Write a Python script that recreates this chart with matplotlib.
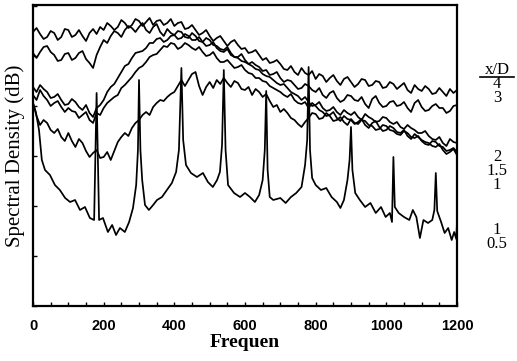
import numpy as np
import matplotlib
matplotlib.use("Agg")
import matplotlib.pyplot as plt
from matplotlib.lines import Line2D
from matplotlib.ticker import MultipleLocator

# frequency grid (Hz) used for the broadband curves
freq = np.arange(0, 1201, 10)

# spectral levels (dB, arbitrary origin), one row = 100 Hz
lvl_4 = [54.8, 55.6, 54.4, 53.4, 53.8, 55.0, 54.6, 53.2, 53.8, 55.4,
         55.2, 53.8, 54.2, 55.2, 54.0, 53.0, 54.6, 55.4, 54.4, 55.8,
         55.2, 56.6, 56.0, 55.2, 55.8, 57.2, 56.6, 55.6, 56.2, 57.4,
         57.0, 56.0, 56.8, 57.6, 56.2, 57.0, 57.2, 56.2, 56.6, 57.4,
         56.0, 56.6, 56.8, 55.4, 55.6, 56.2, 55.2, 54.2, 54.6, 55.2,
         54.0, 53.0, 53.6, 54.0, 53.0, 52.0, 52.8, 53.2, 52.2, 51.4,
         51.6, 50.6, 50.8, 51.2, 50.2, 49.2, 49.6, 48.6, 48.8, 49.2,
         48.4, 47.4, 47.2, 48.0, 46.8, 46.2, 47.6, 46.6, 46.2, 47.0,
         45.4, 46.4, 46.0, 44.8, 45.6, 46.2, 45.0, 44.2, 45.4, 45.8,
         44.8, 43.8, 44.4, 45.4, 45.2, 44.0, 44.2, 45.0, 44.8, 43.6,
         43.8, 44.8, 44.4, 43.4, 44.0, 44.6, 43.2, 42.6, 44.2, 43.4,
         43.0, 44.0, 43.4, 42.4, 42.6, 43.6, 42.8, 42.0, 43.4, 42.6,
         43.2]
lvl_3 = [50.6, 49.6, 50.8, 51.8, 52.0, 50.8, 50.2, 49.0, 49.2, 50.4,
         50.6, 49.2, 49.6, 50.6, 51.0, 49.4, 48.6, 47.6, 50.2, 51.8,
         53.2, 52.6, 54.0, 55.0, 54.6, 53.8, 55.2, 56.0, 55.6, 54.8,
         55.8, 56.6, 55.2, 54.6, 55.8, 56.4, 54.8, 54.0, 55.4, 54.6,
         54.2, 55.0, 54.8, 53.8, 53.6, 54.6, 54.0, 53.0, 52.8, 53.6,
         53.2, 52.2, 52.0, 51.4, 51.2, 51.8, 50.6, 49.8, 49.8, 50.4,
         49.2, 48.4, 48.8, 48.2, 47.8, 47.0, 47.2, 46.2, 46.4, 46.8,
         45.6, 44.8, 45.2, 45.0, 44.2, 43.4, 43.6, 44.4, 44.0, 43.2,
         42.8, 43.6, 42.2, 41.6, 42.6, 43.0, 41.6, 40.8, 41.2, 42.2,
         42.0, 41.2, 41.0, 41.8, 40.4, 39.6, 41.4, 42.0, 40.6, 39.8,
         40.0, 40.8, 41.0, 40.0, 40.2, 40.8, 39.6, 38.8, 40.6, 41.2,
         39.8, 39.0, 39.2, 40.0, 40.4, 39.6, 39.6, 38.6, 39.0, 40.0,
         40.2]
lvl_2 = [43.8, 42.8, 44.2, 43.4, 42.8, 41.6, 41.8, 42.4, 41.2, 40.2,
         40.4, 41.4, 40.8, 39.8, 39.2, 40.2, 38.6, 37.8, 39.6, 40.2,
         41.2, 42.8, 43.8, 44.4, 45.6, 46.8, 48.0, 48.4, 49.6, 50.6,
         50.8, 51.0, 51.6, 52.6, 52.6, 53.4, 53.6, 52.8, 53.2, 54.0,
         54.2, 53.4, 53.6, 54.4, 54.0, 53.2, 53.2, 53.8, 52.8, 52.0,
         52.2, 52.8, 51.6, 51.0, 50.8, 51.4, 50.2, 49.8, 49.6, 49.0,
         48.8, 48.4, 48.0, 47.4, 47.2, 46.4, 46.0, 45.8, 45.2, 44.6,
         44.2, 44.4, 43.6, 42.8, 42.4, 42.0, 41.2, 41.8, 40.8, 40.0,
         40.2, 40.8, 39.6, 39.0, 39.2, 39.8, 38.8, 38.2, 39.2, 38.6,
         38.2, 38.8, 37.8, 37.2, 38.4, 37.8, 37.4, 36.8, 37.0, 37.8,
         37.6, 36.8, 36.4, 36.8, 35.8, 35.4, 36.2, 35.6, 35.2, 34.6,
         34.6, 35.0, 34.0, 33.4, 33.2, 33.8, 32.6, 32.0, 33.4, 32.8,
         32.6]
lvl_15 = [42.2, 41.2, 43.2, 42.0, 41.2, 40.0, 40.6, 41.0, 39.8, 38.8,
          39.6, 39.0, 38.8, 37.6, 38.2, 38.8, 37.2, 36.6, 38.6, 38.2,
          39.6, 40.6, 41.2, 41.8, 42.2, 43.6, 44.2, 45.0, 45.8, 46.8,
          47.6, 48.0, 48.8, 49.8, 50.2, 50.4, 51.2, 52.0, 51.8, 52.6,
          52.4, 51.4, 51.8, 52.6, 52.2, 51.6, 51.2, 51.8, 50.8, 50.0,
          50.2, 50.8, 49.6, 48.8, 48.8, 49.2, 48.4, 47.6, 47.8, 48.2,
          47.2, 46.6, 46.4, 45.6, 45.6, 45.0, 44.8, 44.0, 43.6, 43.2,
          42.8, 42.2, 41.8, 42.4, 41.2, 40.6, 40.4, 40.8, 39.6, 40.6,
          40.0, 39.2, 38.8, 38.0, 38.2, 38.8, 37.6, 37.0, 38.0, 37.4,
          37.2, 36.4, 36.8, 37.4, 36.2, 35.6, 36.6, 37.0, 35.8, 35.0,
          35.2, 36.0, 35.6, 34.8, 34.6, 35.2, 34.0, 33.4, 34.4, 33.8,
          33.2, 32.8, 32.6, 32.0, 31.8, 32.4, 31.2, 30.4, 30.8, 31.4,
          30.2]
lvl_1 = [40.6, 38.0, 36.2, 37.2, 36.6, 35.2, 34.6, 35.4, 33.8, 33.0,
         34.6, 33.0, 31.8, 33.4, 32.6, 31.0, 29.8, 30.6, 31.2, 29.6,
         29.8, 30.8, 29.2, 31.0, 32.8, 33.8, 34.6, 34.0, 35.6, 36.6,
         37.2, 38.2, 38.8, 38.2, 39.8, 40.6, 41.2, 41.0, 41.8, 42.4,
         42.8, 44.0, 45.2, 44.0, 45.2, 46.4, 46.8, 44.0, 42.2, 43.8,
         44.8, 43.6, 45.2, 44.4, 45.6, 44.6, 43.8, 45.0, 44.6, 43.4,
         43.2, 43.8, 42.2, 43.4, 42.8, 41.8, 42.4, 41.0, 39.8, 40.2,
         38.8, 39.4, 38.6, 37.6, 37.2, 36.4, 35.8, 36.8, 37.6, 38.6,
         38.4, 37.4, 37.6, 38.6, 38.0, 37.0, 37.2, 37.8, 36.8, 36.2,
         37.4, 36.6, 36.4, 37.2, 37.0, 36.2, 36.0, 35.2, 35.4, 36.2,
         36.0, 35.2, 35.0, 34.4, 34.2, 35.0, 34.6, 33.8, 33.6, 34.0,
         33.0, 32.4, 32.2, 33.0, 32.8, 32.0, 31.8, 31.0, 31.2, 31.6,
         30.8]

# lowest curve (x/D = 0.5) with the narrow tones at 180 + 120k Hz
freq_05 = [0, 8, 17, 25, 34, 48, 62, 76, 91, 105, 119, 133, 147, 161, 173,
           180, 187, 198, 212, 224, 235, 246, 260, 272, 283, 292, 297,
           300, 304, 309, 317, 328, 340, 351, 365, 379, 393, 405, 413,
           420, 425, 433, 447, 464, 481, 495, 509, 521, 529, 535,
           540, 545, 552, 569, 586, 600, 614, 628, 640, 650, 656,
           660, 664, 670, 680, 700, 715, 730, 745, 760, 770, 776,
           780, 784, 790, 800, 815, 830, 845, 860, 870, 880, 890, 896,
           900, 904, 912, 925, 940, 955, 970, 985, 998, 1010, 1016,
           1020, 1024, 1035, 1050, 1065, 1075, 1085, 1095, 1105, 1118, 1130, 1136,
           1140, 1144, 1155, 1165, 1175, 1185, 1192, 1198, 1200]
lvl_05 = [40.6, 38.8, 35.2, 29.2, 27.2, 26.2, 24.2, 23.2, 21.6, 20.8, 21.2, 19.2, 19.8, 17.6, 17.2,
          42.6, 17.2, 17.6, 14.8, 16.2, 14.2, 15.6, 14.8, 16.8, 19.6, 24.2, 31.2,
          45.2, 31.2, 25.2, 20.2, 19.2, 20.2, 21.2, 21.8, 23.2, 24.6, 26.8, 31.2,
          47.6, 33.2, 28.2, 26.6, 25.8, 26.6, 24.8, 23.8, 25.2, 26.8, 32.2,
          47.2, 31.2, 24.2, 22.6, 21.8, 22.6, 21.8, 20.8, 22.2, 25.2, 31.2,
          43.0, 27.2, 21.8, 21.2, 21.6, 20.6, 21.8, 22.6, 23.8, 28.2, 33.2,
          47.8, 31.2, 25.6, 24.2, 23.2, 23.6, 21.8, 20.8, 19.6, 21.2, 25.2, 29.2,
          35.8, 27.2, 22.6, 21.2, 19.8, 20.6, 18.6, 19.8, 17.8, 18.6, 16.8,
          29.8, 19.8, 18.6, 17.8, 17.2, 19.2, 17.8, 13.6, 17.2, 16.6, 17.2, 19.2,
          26.6, 19.0, 16.8, 14.6, 15.6, 13.2, 14.8, 13.4, 16.8]

# x/D legend, stacked as in the original (centre rows in scan pixels)
xd_groups = ["x/D\n4\n3", "2\n1.5\n1", "1\n0.5"]
xd_group_y = [84, 171, 237]

W, H = 517, 361
fig = plt.figure(figsize=(W / 100, H / 100), dpi=100)
ax = fig.add_axes([33 / W, 1 - 306 / H, 424 / W, 301 / H])

for lv in [lvl_4, lvl_3, lvl_2, lvl_15, lvl_1]:
    ax.plot(freq, lv, color="black", linewidth=1.25)
ax.plot(freq_05, lvl_05, color="black", linewidth=1.25)

ax.set_xlim(0, 1200)
ax.set_ylim(0, 60.2)
ax.xaxis.set_major_locator(MultipleLocator(200))
ax.xaxis.set_minor_locator(MultipleLocator(50))
ax.yaxis.set_major_locator(MultipleLocator(10))
ax.set_yticklabels([])
ax.tick_params(axis="both", which="both", direction="in", length=3, width=1, color="black")
ax.tick_params(axis="x", pad=9)
for lab in ax.get_xticklabels():
    lab.set_fontfamily("Liberation Sans")
    lab.set_fontweight("bold")
    lab.set_fontsize(10.5)
for sp in ax.spines.values():
    sp.set_linewidth(1.6)

ax.set_xlabel("Frequen", fontfamily="Liberation Serif", fontweight="bold",
              fontsize=14, labelpad=1)
ax.set_ylabel("Spectral Density (dB)", fontfamily="Liberation Serif",
              fontsize=15, labelpad=2)

for txt, yy in zip(xd_groups, xd_group_y):
    fig.text(497 / W, 1 - yy / H, txt, ha="center", va="center",
             fontfamily="Liberation Serif", fontsize=12, linespacing=0.85)
fig.add_artist(Line2D([480 / W, 514 / W], [1 - 77 / H, 1 - 77 / H],
                      color="black", linewidth=1.2))

fig.savefig("out.png", dpi=100)
